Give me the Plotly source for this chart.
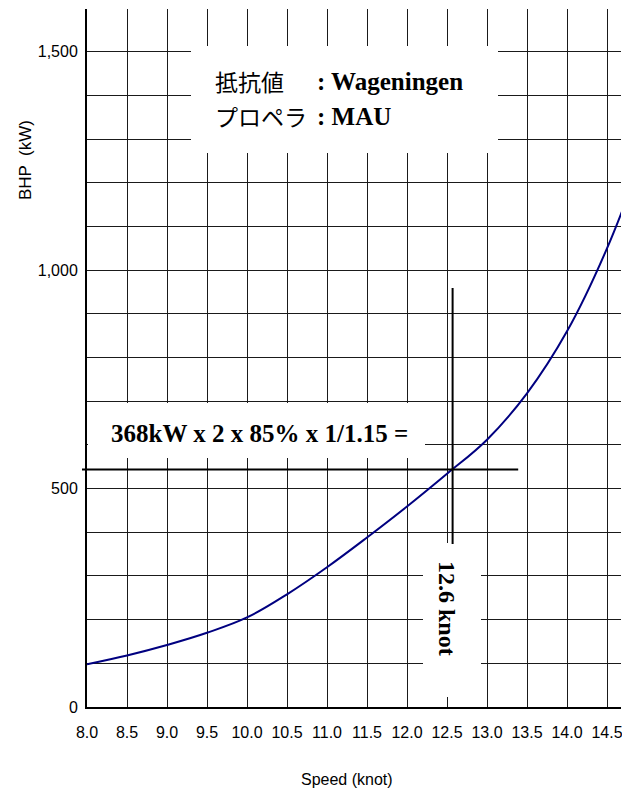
import plotly.graph_objects as go

# ---------------- data ----------------
speed_knot = [8.0, 8.5, 9.0, 9.5, 10.0, 10.5, 11.0, 11.5, 12.0, 12.5, 13.0, 13.5, 14.0, 14.5, 15.0]
bhp_kw = [98, 118, 142, 170, 205, 258, 320, 388, 459, 534, 612, 718, 860, 1050, 1290]

engine_kw = 368
engine_count = 2
load_factor = 0.85
sea_margin = 1.15
design_power = engine_kw * engine_count * load_factor / sea_margin  # ~544 kW
design_speed = 12.57

x_tick_vals = [8.0, 8.5, 9.0, 9.5, 10.0, 10.5, 11.0, 11.5, 12.0, 12.5, 13.0, 13.5, 14.0, 14.5]
x_tick_text = ["8.0", "8.5", "9.0", "9.5", "10.0", "10.5", "11.0", "11.5", "12.0", "12.5",
               "13.0", "13.5", "14.0", "14.5"]
y_tick_vals = [0, 100, 200, 300, 400, 500, 600, 700, 800, 900, 1000, 1100, 1200, 1300, 1400, 1500]
y_tick_text = ["0", "", "", "", "", "500", "", "", "", "", "1,000", "", "", "", "", "1,500"]

cjk_labels = ["抵抗値", "プロペラ"]
value_labels = [": Wageningen", ": MAU"]
formula_label = "368kW x 2 x 85% x 1/1.15 ="
speed_label = "12.6 knot"
x_title = "Speed (knot)"
y_title = "BHP  (kW)"

# ---------------- geometry (screen pixels; page body has an 8px margin) ----------------
OFF = 8
VIEW_W, VIEW_H = 630, 794
W, H = VIEW_W - OFF, VIEW_H - OFF
PL, PR, PT, PB = 87, 621, 9, 707          # plot area on screen
ML, MR, MT, MB = PL - OFF, VIEW_W - PR, PT - OFF, VIEW_H - PB
X_RANGE = [8.0, 14.675]
Y_RANGE = [0, 1598]
plot_w = PR - PL
plot_h = PB - PT


def px2x(px):
    return X_RANGE[0] + (px - PL) / plot_w * (X_RANGE[1] - X_RANGE[0])


def py2y(py):
    return Y_RANGE[0] + (PB - py) / plot_h * (Y_RANGE[1] - Y_RANGE[0])


def px2paper(px):
    return (px - PL) / plot_w


def py2paper(py):
    return (PB - py) / plot_h


def x2paper(v):
    return (v - X_RANGE[0]) / (X_RANGE[1] - X_RANGE[0])


SERIF = "Liberation Serif, Times New Roman, serif"
CJK = "Noto Sans CJK JP, Noto Sans CJK SC, sans-serif"
SANS = "Liberation Sans, Arial, sans-serif"

fig = go.Figure()
fig.add_trace(go.Scatter(
    x=speed_knot, y=bhp_kw, mode="lines",
    line=dict(color="#000080", width=2, shape="spline", smoothing=1.1),
    hoverinfo="skip", showlegend=False,
))

shapes = []
# white label boxes (above grid, below traces)
for (x0, x1, y0, y1) in [(191, 498, 46, 153), (88, 425, 403, 458), (423, 481, 543, 697)]:
    shapes.append(dict(type="rect", xref="x", yref="y",
                       x0=px2x(x0), x1=px2x(x1), y0=py2y(y1), y1=py2y(y0),
                       fillcolor="white", line=dict(width=0), layer="between"))
# design power horizontal line
shapes.append(dict(type="line", xref="paper", yref="y",
                   x0=px2paper(82), x1=x2paper(13.39), y0=design_power, y1=design_power,
                   line=dict(color="black", width=2), layer="above"))
# design speed vertical line
shapes.append(dict(type="line", xref="x", yref="y",
                   x0=design_speed, x1=design_speed, y0=py2y(544), y1=py2y(288),
                   line=dict(color="black", width=2), layer="above"))

annotations = []
for i, (c, v) in enumerate(zip(cjk_labels, value_labels)):
    yy = py2y(81 + 35 * i)
    annotations.append(dict(x=px2x(213), y=yy, xref="x", yref="y", text=c, showarrow=False,
                            xanchor="left", yanchor="middle",
                            font=dict(family=CJK, size=23, color="black")))
    annotations.append(dict(x=px2x(315), y=yy, xref="x", yref="y", text="<b>" + v + "</b>",
                            showarrow=False, xanchor="left", yanchor="middle",
                            font=dict(family=SERIF, size=25, color="black")))
annotations.append(dict(x=px2x(109), y=py2y(433), xref="x", yref="y",
                        text="<b>" + formula_label + "</b>", showarrow=False,
                        xanchor="left", yanchor="middle",
                        font=dict(family=SERIF, size=25, color="black")))
annotations.append(dict(x=px2x(447), y=py2y(608), xref="x", yref="y",
                        text="<b>" + speed_label + "</b>", showarrow=False, textangle=90,
                        xanchor="center", yanchor="middle",
                        font=dict(family=SERIF, size=24, color="black")))
annotations.append(dict(x=px2paper(25), y=py2paper(160), xref="paper", yref="paper", text=y_title,
                        showarrow=False, textangle=-90, xanchor="center", yanchor="middle",
                        font=dict(family=SANS, size=17, color="black")))
annotations.append(dict(x=px2paper(347), y=py2paper(780), xref="paper", yref="paper",
                        text=x_title, showarrow=False, xanchor="center", yanchor="middle",
                        font=dict(family=SANS, size=16, color="black")))

fig.update_layout(
    width=W, height=H,
    margin=dict(l=ML, r=MR, t=MT, b=MB, pad=0),
    paper_bgcolor="white", plot_bgcolor="white",
    shapes=shapes, annotations=annotations,
    showlegend=False, hovermode=False,
    xaxis=dict(range=X_RANGE, tickvals=x_tick_vals, ticktext=x_tick_text,
               showgrid=True, gridcolor="#1a1a1a", gridwidth=1,
               showline=True, linecolor="black", linewidth=2, zeroline=False,
               ticks="", ticklabelstandoff=10,
               tickfont=dict(family=SANS, size=16, color="black")),
    yaxis=dict(range=Y_RANGE, tickvals=y_tick_vals, ticktext=y_tick_text,
               showgrid=True, gridcolor="#1a1a1a", gridwidth=1,
               showline=True, linecolor="black", linewidth=2, zeroline=False,
               ticks="", ticklabelstandoff=4,
               tickfont=dict(family=SANS, size=16, color="black")),
)

fig.write_html("out.html")
